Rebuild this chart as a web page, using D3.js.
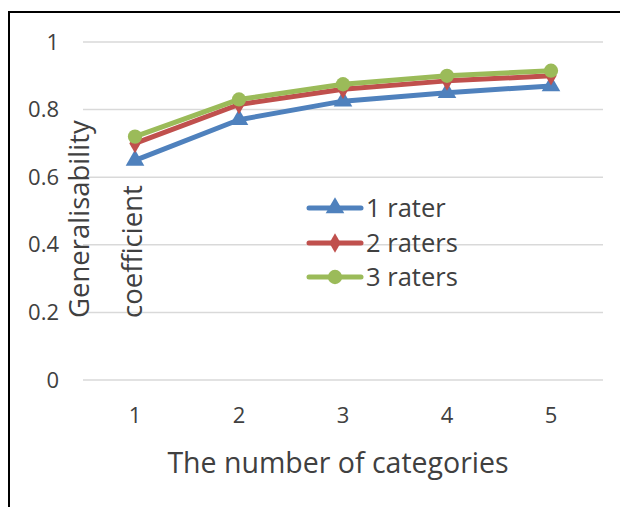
<!DOCTYPE html>
<html>
<head>
<meta charset="utf-8">
<script src="https://cdn.jsdelivr.net/npm/d3@7"></script>
<style>
  html, body { margin: 0; padding: 0; background: #fff; }
  svg { display: block; }
  text { font-family: "Open Sans", "Noto Sans", sans-serif; fill: #404040; }
</style>
</head>
<body>
<svg id="chart" width="620" height="507"></svg>
<script>
// Number of categories on the x axis
const categories = [1, 2, 3, 4, 5];

// Generalisability coefficients per number of raters
const oneRater    = [0.65, 0.77, 0.825, 0.85, 0.87];
const twoRaters   = [0.70, 0.815, 0.86, 0.885, 0.90];
const threeRaters = [0.72, 0.83, 0.875, 0.90, 0.915];

const seriesNames = ["1 rater", "2 raters", "3 raters"];
const yTicks = [0, 0.2, 0.4, 0.6, 0.8, 1];

const series = [
  { name: seriesNames[0], values: oneRater,    color: "#4F81BD", marker: d3.symbolTriangle, size: 150 },
  { name: seriesNames[1], values: twoRaters,   color: "#C0504D", marker: d3.symbolDiamond,  size: 110 },
  { name: seriesNames[2], values: threeRaters, color: "#9BBB59", marker: d3.symbolCircle,   size: 160 }
];

const svg = d3.select("#chart");

// Outer frame (right and bottom edges fall outside the view)
svg.append("rect")
  .attr("x", 9).attr("y", 12)
  .attr("width", 640).attr("height", 520)
  .attr("fill", "none")
  .attr("stroke", "#000")
  .attr("stroke-width", 2);

const plot = { left: 83, right: 603, top: 42, bottom: 380 };

const x = d3.scaleBand()
  .domain(categories)
  .range([plot.left, plot.right]);

const y = d3.scaleLinear()
  .domain([0, 1])
  .range([plot.bottom, plot.top]);

// Horizontal gridlines
svg.append("g")
  .selectAll("line")
  .data(yTicks)
  .join("line")
  .attr("x1", plot.left).attr("x2", plot.right)
  .attr("y1", d => y(d)).attr("y2", d => y(d))
  .attr("stroke", "#D9D9D9")
  .attr("stroke-width", 1.5);

// Y axis tick labels
const yAxis = d3.axisLeft(y).tickValues(yTicks).tickSize(0).tickPadding(0)
  .tickFormat(d3.format("~g"));
svg.append("g")
  .attr("transform", `translate(${59},0)`)
  .call(yAxis)
  .call(g => g.select(".domain").remove())
  .call(g => g.selectAll("text")
    .attr("font-size", 22)
    .attr("fill", "#404040")
    .attr("font-family", "'Open Sans', sans-serif"));

// X axis tick labels
const xAxis = d3.axisBottom(x).tickSize(0).tickPadding(0);
svg.append("g")
  .attr("transform", `translate(0,${407})`)
  .call(xAxis)
  .call(g => g.select(".domain").remove())
  .call(g => g.selectAll("text")
    .attr("font-size", 22)
    .attr("fill", "#404040")
    .attr("font-family", "'Open Sans', sans-serif"));

// Axis titles
svg.append("text")
  .attr("x", 338).attr("y", 473)
  .attr("text-anchor", "middle")
  .attr("font-size", 28.5)
  .text("The number of categories");

const yTitle = svg.append("g");
yTitle.append("text")
  .attr("transform", "translate(89,318) rotate(-90)")
  .attr("text-anchor", "start")
  .attr("font-size", 27.5)
  .text("Generalisability");
yTitle.append("text")
  .attr("transform", "translate(142,318) rotate(-90)")
  .attr("text-anchor", "start")
  .attr("font-size", 27.5)
  .text("coefficient");

// Lines and markers
const cx = i => x(categories[i]) + x.bandwidth() / 2;
const line = d3.line()
  .x((d, i) => cx(i))
  .y(d => y(d));

series.forEach(s => {
  const g = svg.append("g");
  g.append("path")
    .datum(s.values)
    .attr("d", line)
    .attr("fill", "none")
    .attr("stroke", s.color)
    .attr("stroke-width", 5)
    .attr("stroke-linejoin", "round")
    .attr("stroke-linecap", "round");
  g.selectAll("path.marker")
    .data(s.values)
    .join("path")
    .attr("class", "marker")
    .attr("d", d3.symbol().type(s.marker).size(s.size))
    .attr("transform", (d, i) => `translate(${cx(i)},${y(d)})`)
    .attr("fill", s.color);
});

// Legend
const legend = svg.append("g");
const legendRows = [208, 243, 277];
series.forEach((s, i) => {
  const row = legend.append("g").attr("transform", `translate(0,${legendRows[i]})`);
  row.append("line")
    .attr("x1", 309).attr("x2", 361)
    .attr("stroke", s.color)
    .attr("stroke-width", 5)
    .attr("stroke-linecap", "round");
  row.append("path")
    .attr("d", d3.symbol().type(s.marker).size(s.size))
    .attr("transform", "translate(335,0)")
    .attr("fill", s.color);
  row.append("text")
    .attr("x", 366).attr("y", 9)
    .attr("font-size", 25.5)
    .text(s.name);
});
</script>
</body>
</html>
